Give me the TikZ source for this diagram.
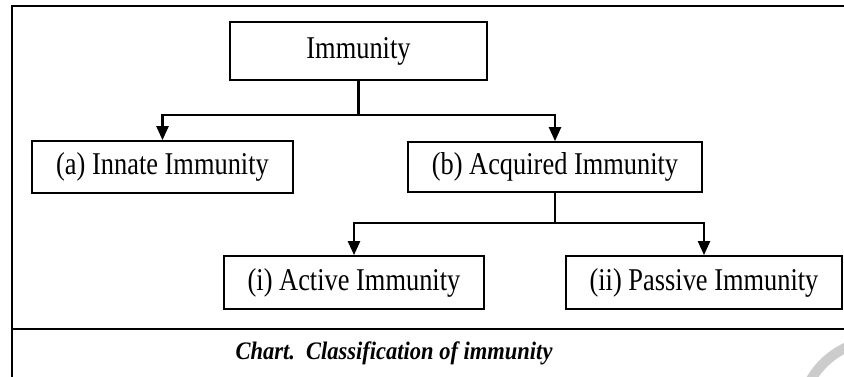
\documentclass[tikz,border=0pt]{standalone}
\usepackage{graphicx}
\usepackage{fontspec}
\setmainfont{Liberation Serif}
\usepackage{tikz}
\usetikzlibrary{arrows.meta}
\usetikzlibrary{positioning}

\newcommand{\tallbox}[2]{\scalebox{1}[#1]{#2}}

\begin{document}
\begin{tikzpicture}[x=1pt,y=-1pt,
  box/.style={draw, line width=1.8pt, inner sep=0pt, font=\fontsize{26.4}{30}\selectfont},
  link/.style={line width=2.4pt},
  arr/.style={line width=2.4pt, -{Triangle[width=12pt,length=14pt]}}]
  \useasboundingbox (0,0) rectangle (844,376);
  \clip (0,0) rectangle (844,376);
  % watermark
  \draw[gray!40, line width=10pt] (880,420) circle[radius=80];
  % frame
  \draw[line width=2pt] (12,382) -- (12,6) -- (850,6);
  \draw[line width=2pt] (12,328.5) -- (850,328.5);

  \node[box, minimum width=257pt, minimum height=58pt] (imm) at (358.5,51) {\tallbox{1.2}{Immunity}};
  \node[box, minimum width=261pt, minimum height=52pt] (innate) at (162.5,167) {\tallbox{1.2}{(a) Innate Immunity}};
  \node[box, minimum width=294pt, minimum height=50pt] (acq) at (555,167) {\tallbox{1.2}{(b) Acquired Immunity}};
  \node[box, minimum width=260pt, minimum height=53pt] (active) at (354,282.5) {\tallbox{1.2}{(i) Active Immunity}};
  \node[box, minimum width=276pt, minimum height=53pt] (passive) at (704,282.5) {\tallbox{1.2}{(ii) Passive Immunity}};

  \draw[link] (imm.south) -- ++(0,34) coordinate (fork1);
  \draw[arr] (fork1) -| (innate.north);
  \draw[arr] (fork1) -| (acq.north);
  \draw[link] (acq.south) -- ++(0,30) coordinate (fork2);
  \draw[arr] (fork2) -| (active.north);
  \draw[arr] (fork2) -| (passive.north);

  \node[anchor=base, font=\fontsize{22.5}{25}\selectfont\bfseries\itshape] (cap) at (394,359) {\tallbox{1.12}{Chart.\ \ Classification of immunity}};
\end{tikzpicture}
\end{document}
